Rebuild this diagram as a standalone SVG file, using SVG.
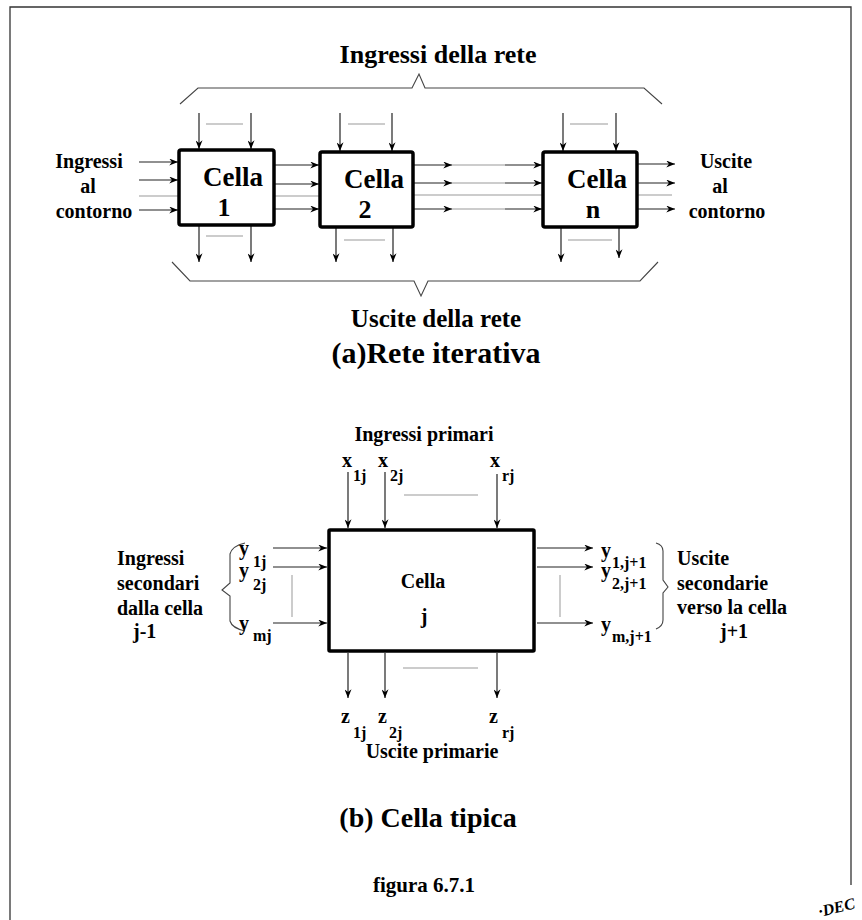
<svg xmlns="http://www.w3.org/2000/svg" width="862" height="920" viewBox="0 0 862 920">
<defs>
<style>
text{font-family:"Liberation Serif","Times New Roman",serif;font-weight:bold;fill:#000}
.a{stroke:#222;stroke-width:1.2;fill:none;marker-end:url(#ah)}
.g{stroke:#999;stroke-width:1;fill:none}
.box{fill:#fff;stroke:#000;stroke-width:3.5}
.br{stroke:#444;stroke-width:1.1;fill:none}
.lb{font-size:20px}
.cl{font-size:27px}
.dg{font-size:26px}
.v{font-size:20px}
.s{font-size:16px}
</style>
<marker id="ah" viewBox="0 0 10 8" refX="10" refY="4" markerWidth="9" markerHeight="7" markerUnits="userSpaceOnUse" orient="auto"><path d="M0,0 L10,4 L0,8 L3,4 z" fill="#000"/></marker>
</defs>
<rect width="862" height="920" fill="#fff"/>
<path d="M10,920 V7 H851 V885" stroke="#333" stroke-width="1.3" fill="none"/>

<g id="connectors">
<path class="a" d="M199,113 V149"/><path class="a" d="M251,113 V149"/><path class="g" d="M206,124 H243"/>
<path class="a" d="M340,113 V151"/><path class="a" d="M392,113 V151"/><path class="g" d="M348,124 H385"/>
<path class="a" d="M563,113 V151"/><path class="a" d="M616,113 V151"/><path class="g" d="M570,124 H608"/>
<path class="a" d="M199,226 V262"/><path class="a" d="M251,226 V262"/><path class="g" d="M206,236 H243"/>
<path class="a" d="M336,228 V262"/><path class="a" d="M393,228 V262"/><path class="g" d="M344,240 H385"/>
<path class="a" d="M561,228 V262"/><path class="a" d="M619,228 V258"/><path class="g" d="M568,240 H612"/>
<path class="a" d="M139,162 H178"/><path class="a" d="M139,180 H178"/><path class="a" d="M139,210 H178"/><path class="g" d="M139,196 H178"/>
<path class="a" d="M275,165 H319"/><path class="a" d="M275,184 H319"/><path class="a" d="M275,209 H319"/><path class="g" d="M275,196 H319"/>
<path class="a" d="M414,165 H452"/><path class="g" d="M452,165 H505"/><path class="a" d="M505,165 H542"/>
<path class="a" d="M414,183 H452"/><path class="g" d="M452,183 H505"/><path class="a" d="M505,183 H542"/>
<path class="a" d="M414,209 H452"/><path class="g" d="M452,209 H505"/><path class="a" d="M505,209 H542"/>
<path class="g" d="M414,195 H542"/>
<path class="a" d="M638,164 H675"/><path class="a" d="M638,183 H675"/><path class="a" d="M638,209 H675"/><path class="g" d="M638,195 H672"/>
<path class="br" d="M180,104 L198,88 H412 L419,74 L425,88 H644 L662,104"/>
<path class="br" d="M172,262 L190,281 H414 L421,296 L428,281 H640 L658,262"/>

<path class="a" d="M348,472 V528"/><path class="a" d="M385,472 V528"/><path class="a" d="M497,474 V528"/><path class="g" d="M404,495 H478"/>
<path class="a" d="M348,653 V698"/><path class="a" d="M385,653 V698"/><path class="a" d="M497,653 V698"/><path class="g" d="M403,668 H478"/>
<path class="a" d="M273,548 H327"/><path class="a" d="M273,567 H327"/><path class="a" d="M273,623 H327"/><path class="g" d="M292,575 V617"/>
<path class="a" d="M537,548 H593"/><path class="a" d="M537,567 H593"/><path class="a" d="M537,623 H593"/><path class="g" d="M560,575 V617"/>
<path class="br" d="M245,543 Q232,546 230,554 V583 L222,590 L230,596 V621 Q232,628 245,631"/>
<path class="br" d="M656,543 Q663,545 663,551 V580 L668,587 L663,593 V620 Q663,626 656,629"/>
</g>

<g id="cell1"><rect class="box" x="179" y="150" width="95" height="75" rx="2"/><text class="cl" x="203" y="186">Cella</text><text class="dg" x="224" y="216" text-anchor="middle">1</text></g>
<g id="cell2"><rect class="box" x="320" y="152" width="93" height="75" rx="2"/><text class="cl" x="344" y="188">Cella</text><text class="dg" x="365" y="218" text-anchor="middle">2</text></g>
<g id="celln"><rect class="box" x="543" y="152" width="94" height="75" rx="2"/><text class="cl" x="567" y="188">Cella</text><text class="dg" x="593" y="218" text-anchor="middle">n</text></g>

<g id="labels-a">
<text x="438" y="63" text-anchor="middle" font-size="26">Ingressi della rete</text>
<text class="lb" x="89" y="168" text-anchor="middle">Ingressi</text>
<text class="lb" x="88" y="193" text-anchor="middle">al</text>
<text class="lb" x="94" y="218" text-anchor="middle">contorno</text>
<text class="lb" x="726" y="168" text-anchor="middle">Uscite</text>
<text class="lb" x="720" y="193" text-anchor="middle">al</text>
<text class="lb" x="727" y="218" text-anchor="middle">contorno</text>
<text x="436" y="327" text-anchor="middle" font-size="25">Uscite della rete</text>
<text x="436" y="363" text-anchor="middle" font-size="30">(a)Rete iterativa</text>
</g>

<g id="cellj"><rect class="box" x="329" y="530" width="205" height="121" rx="1"/><text class="v" x="423" y="588" text-anchor="middle">Cella</text><text class="v" x="424" y="623" text-anchor="middle">j</text></g>

<g id="labels-b">
<text class="v" x="424" y="441" text-anchor="middle">Ingressi primari</text>
<text class="v" x="342" y="467">x</text><text class="s" x="353" y="481">1j</text>
<text class="v" x="378" y="467">x</text><text class="s" x="390" y="481">2j</text>
<text class="v" x="490" y="467">x</text><text class="s" x="502" y="481">rj</text>
<text class="v" x="239" y="555">y</text><text class="s" x="253" y="567">1j</text>
<text class="v" x="239" y="577">y</text><text class="s" x="253" y="590">2j</text>
<text class="v" x="239" y="630">y</text><text class="s" x="253" y="641">mj</text>
<text class="lb" x="117" y="565">Ingressi</text>
<text class="lb" x="117" y="590">secondari</text>
<text class="lb" x="117" y="615">dalla cella</text>
<text class="lb" x="133" y="638">j-1</text>
<text class="v" x="601" y="557">y</text><text class="s" x="612" y="568">1,j+1</text>
<text class="v" x="601" y="577">y</text><text class="s" x="612" y="589">2,j+1</text>
<text class="v" x="601" y="631">y</text><text class="s" x="612" y="642">m,j+1</text>
<text class="lb" x="677" y="565">Uscite</text>
<text class="lb" x="677" y="590">secondarie</text>
<text class="lb" x="677" y="614">verso la cella</text>
<text class="lb" x="720" y="638">j+1</text>
<text class="v" x="341" y="723">z</text><text class="s" x="353" y="738">1j</text>
<text class="v" x="378" y="723">z</text><text class="s" x="389" y="738">2j</text>
<text class="v" x="489" y="723">z</text><text class="s" x="502" y="738">rj</text>
<text class="v" x="432" y="758" text-anchor="middle">Uscite primarie</text>
<text x="428" y="827" text-anchor="middle" font-size="28">(b) Cella tipica</text>
<text x="424" y="892" text-anchor="middle" font-size="21">figura 6.7.1</text>
</g>
<g id="logo"><text x="820" y="917" font-size="16" font-style="italic" transform="rotate(-14 820 917)">·DEC</text></g>
</svg>
